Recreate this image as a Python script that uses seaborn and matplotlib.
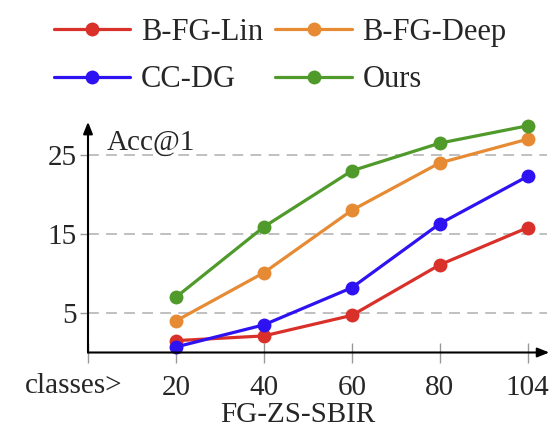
import numpy as np
import pandas as pd
import matplotlib.pyplot as plt
import seaborn as sns

classes = ['20', '40', '60', '80', '104']
methods = ['B-FG-Lin', 'B-FG-Deep', 'CC-DG', 'Ours']
lin = [1.5, 2.1, 4.7, 11.1, 15.8]
deep = [4.0, 10.1, 18.0, 24.0, 27.0]
ccdg = [0.7, 3.5, 8.2, 16.3, 22.3]
ours = [7.0, 15.9, 23.0, 26.5, 28.7]
colors = ['#D9302A', '#E68A33', '#2E12F2', '#4F9A2A']

rows = []
for name, vals in zip(methods, [lin, deep, ccdg, ours]):
    for i, v in enumerate(vals):
        rows.append({'pos': i, 'acc': v, 'method': name})
df = pd.DataFrame(rows)

sns.set_style('white')
plt.rcParams['font.family'] = ['Liberation Serif', 'DejaVu Serif']

fig = plt.figure(figsize=(5.55, 4.34), dpi=100)
ax = fig.add_axes([88 / 555, 1 - 352.5 / 434, (547 - 88) / 555, 229.5 / 434])

sns.lineplot(data=df, x='pos', y='acc', hue='method', palette=colors,
             marker='o', markersize=10, markeredgewidth=0, linewidth=2.3,
             ax=ax, clip_on=False, zorder=3)

ax.set_xlim(-1, 4.22)
ax.set_ylim(0, 29.05)

for y in [5, 15, 25]:
    ax.axhline(y, color='#BBBBBB', linestyle=(0, (6, 4)), linewidth=1.3, zorder=1)

for s in ['top', 'right', 'left', 'bottom']:
    ax.spines[s].set_visible(False)

ax.annotate('', xy=(0, 1.005), xytext=(0, 0), xycoords='axes fraction',
            arrowprops=dict(arrowstyle='-|>,head_length=0.7,head_width=0.28',
                            color='black', lw=1.5, shrinkA=0, shrinkB=0))
ax.annotate('', xy=(1.005, 0), xytext=(0, 0), xycoords='axes fraction',
            arrowprops=dict(arrowstyle='-|>,head_length=0.7,head_width=0.28',
                            color='black', lw=1.5, shrinkA=0, shrinkB=0))

ax.set_xticks([-1, 0, 1, 2, 3, 4])
ax.set_xticklabels([''] + classes)
ax.set_yticks([5, 15, 25])
ax.set_yticklabels(['5', '15', '25'])
ax.tick_params(axis='x', direction='inout', length=14, width=1, color='#999999',
               labelsize=21, pad=9, bottom=True)
ax.tick_params(axis='y', direction='out', length=6, width=1, color='#999999',
               labelsize=21, pad=2, left=True)

ax.set_xlabel('FG-ZS-SBIR', fontsize=21)
ax.xaxis.set_label_coords((298 - 88) / 459, -0.215)
ax.set_ylabel('')
ax.text(0.04, 0.915, 'Acc@1', transform=ax.transAxes, fontsize=21,
        ha='left', va='center')
fig.text(25 / 555, 1 - 386 / 434, 'classes>', fontsize=21, ha='left', va='center')

ax.get_legend().remove()
handles = [plt.Line2D([], [], color=c, marker='o', markersize=10,
                      markeredgewidth=0, linewidth=2.3) for c in colors]
order = [0, 2, 1, 3]
fig.legend([handles[i] for i in order], [methods[i] for i in order], ncol=2,
           loc='upper center', bbox_to_anchor=(0.505, 1.022), frameon=False,
           fontsize=22, handlelength=2.5, handletextpad=0.35,
           columnspacing=0.4, labelspacing=0.6)

fig.savefig('out.png', dpi=100)
